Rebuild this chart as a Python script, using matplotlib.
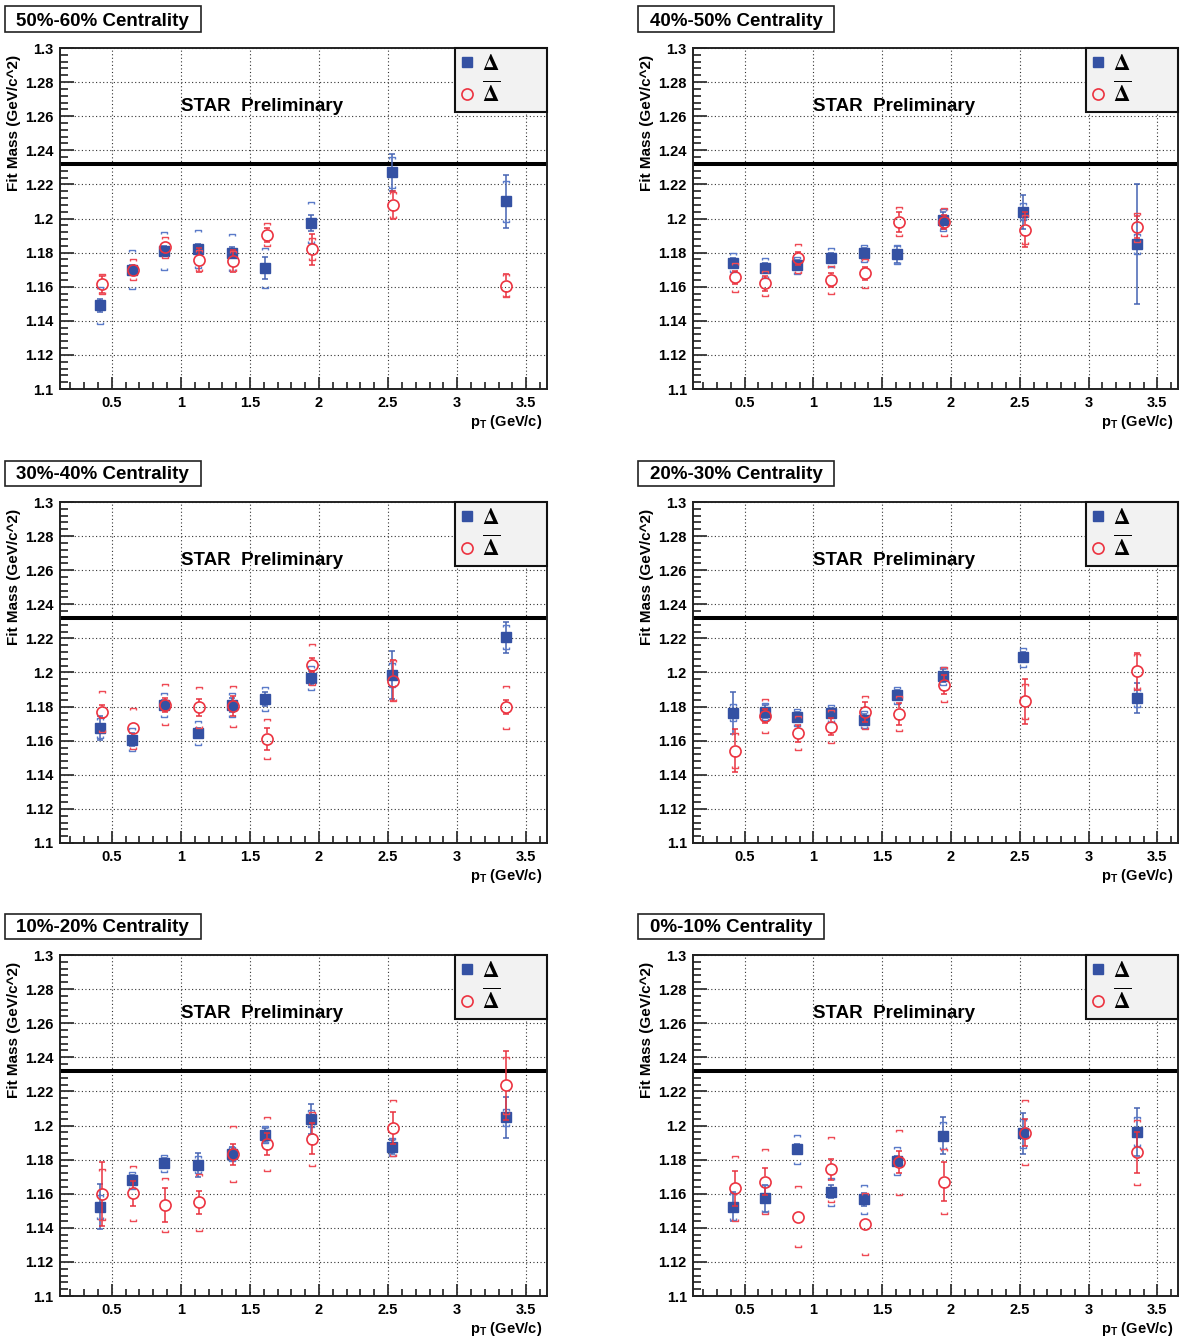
import matplotlib
matplotlib.use("Agg")
import matplotlib.pyplot as plt
import matplotlib.patches as mpatches
from matplotlib.lines import Line2D
from matplotlib.path import Path
from matplotlib.font_manager import FontProperties
from matplotlib.ticker import MultipleLocator, FuncFormatter
import numpy as np

plt.rcParams["font.family"] = ["Liberation Sans", "DejaVu Sans"]
plt.rcParams["font.weight"] = "bold"
plt.rcParams["mathtext.fontset"] = "custom"
plt.rcParams["mathtext.rm"] = "Liberation Sans:bold"
plt.rcParams["mathtext.bf"] = "Liberation Sans:bold"
plt.rcParams["mathtext.it"] = "Liberation Sans:bold:italic"

# ---- datos ----
centralidades = ["50%-60%", "40%-50%", "30%-40%", "20%-30%", "10%-20%", "0%-10%"]

pt_delta = [0.415, 0.645, 0.88, 1.125, 1.37, 1.61, 1.945, 2.525, 3.35]
pt_anti = [0.43, 0.65, 0.885, 1.13, 1.375, 1.62, 1.95, 2.535, 3.355]

masa_pdg = 1.232

delta_masa = [
    [1.149, 1.170, 1.181, 1.182, 1.180, 1.171, 1.1975, 1.227, 1.210],
    [1.174, 1.171, 1.1727, 1.177, 1.1795, 1.179, 1.199, 1.204, 1.185],
    [1.1673, 1.1607, 1.181, 1.1644, 1.181, 1.1845, 1.1967, 1.1986, 1.2207],
    [1.1763, 1.1771, 1.1738, 1.1761, 1.1724, 1.1867, 1.1982, 1.209, 1.1851],
    [1.1524, 1.168, 1.1778, 1.1769, 1.1833, 1.1945, 1.2039, 1.1873, 1.2047],
    [1.1524, 1.1573, 1.186, 1.1612, 1.1567, 1.1792, 1.194, 1.1954, 1.1964],
]
delta_stat = [
    [0.004, 0.003, 0.003, 0.003, 0.003, 0.0065, 0.0047, 0.011, 0.0155],
    [0.003, 0.003, 0.003, 0.003, 0.003, 0.005, 0.005, 0.010, 0.035],
    [0.007, 0.004, 0.003, 0.003, 0.004, 0.004, 0.004, 0.014, 0.009],
    [0.0122, 0.004, 0.003, 0.003, 0.003, 0.003, 0.004, 0.003, 0.009],
    [0.013, 0.003, 0.003, 0.007, 0.004, 0.004, 0.0088, 0.004, 0.0123],
    [0.0085, 0.008, 0.003, 0.004, 0.004, 0.003, 0.011, 0.012, 0.014],
]
delta_sys = [
    [0.011, 0.0115, 0.011, 0.011, 0.011, 0.0115, 0.012, 0.009, 0.012],
    [0.0055, 0.006, 0.005, 0.0055, 0.005, 0.0055, 0.0065, 0.005, 0.006],
    [0.006, 0.007, 0.007, 0.007, 0.007, 0.007, 0.007, 0.007, 0.007],
    [0.005, 0.005, 0.005, 0.005, 0.005, 0.005, 0.0053, 0.0055, 0.0055],
    [0.007, 0.005, 0.005, 0.005, 0.004, 0.005, 0.005, 0.0053, 0.005],
    [0.008, 0.008, 0.0085, 0.0082, 0.0086, 0.0083, 0.008, 0.0085, 0.0085],
]
anti_masa = [
    [1.1615, 1.170, 1.183, 1.1755, 1.175, 1.1905, 1.182, 1.208, 1.1607],
    [1.1654, 1.162, 1.1766, 1.1639, 1.1678, 1.198, 1.198, 1.1935, 1.195],
    [1.1771, 1.1673, 1.181, 1.1796, 1.1802, 1.161, 1.2045, 1.1953, 1.1796],
    [1.1542, 1.1746, 1.1644, 1.1683, 1.1767, 1.1757, 1.1928, 1.183, 1.2006],
    [1.1596, 1.1602, 1.1533, 1.1549, 1.1831, 1.1892, 1.1922, 1.1984, 1.2235],
    [1.1631, 1.1671, 1.1465, 1.1743, 1.1422, 1.1784, 1.1671, 1.1958, 1.1843],
]
anti_stat = [
    [0.005, 0.003, 0.003, 0.007, 0.0065, 0.004, 0.009, 0.008, 0.0065],
    [0.004, 0.0045, 0.004, 0.004, 0.004, 0.006, 0.004, 0.0105, 0.0065],
    [0.004, 0.003, 0.004, 0.005, 0.006, 0.0066, 0.004, 0.012, 0.004],
    [0.0125, 0.004, 0.005, 0.005, 0.006, 0.0065, 0.0055, 0.013, 0.0106],
    [0.0188, 0.0075, 0.010, 0.0066, 0.006, 0.0065, 0.009, 0.0094, 0.0204],
    [0.0105, 0.008, 0.003, 0.006, 0.003, 0.0065, 0.0115, 0.008, 0.012],
]
anti_sys = [
    [0.006, 0.006, 0.006, 0.006, 0.006, 0.0066, 0.0065, 0.0075, 0.0065],
    [0.0083, 0.0075, 0.0085, 0.0082, 0.0083, 0.0085, 0.008, 0.0085, 0.0085],
    [0.012, 0.012, 0.012, 0.012, 0.012, 0.012, 0.012, 0.012, 0.0125],
    [0.0105, 0.0098, 0.0098, 0.0095, 0.0098, 0.0103, 0.0103, 0.0103, 0.0105],
    [0.015, 0.016, 0.016, 0.0165, 0.0165, 0.016, 0.016, 0.0165, 0.0165],
    [0.019, 0.019, 0.018, 0.019, 0.018, 0.019, 0.019, 0.019, 0.019],
]

# ---- estilo ----
AZUL = "#3451A3"
AZUL_ERR = "#4563B3"
AZUL_SYS = "#5B7BC9"
ROJO = "#EC3340"
ROJO_ERR = "#E8323E"
ROJO_SYS = "#EF4A55"

W, H = 1181, 1341
DPI = 100
XLIM = (0.125, 3.65)
YLIM = (1.1, 1.3)
col_izq = [60, 693]
col_ancho = [487, 485]
fila_top = [48, 502, 955]
alto_ax = 341
MS_CUAD = 7.2
MS_CIRC = 8.0


def corchete(arriba=True):
    s = 1 if arriba else -1
    verts = [(-1, -0.8 * s), (-1, 0), (1, 0), (1, -0.8 * s)]
    return Path(verts, [Path.MOVETO, Path.LINETO, Path.LINETO, Path.LINETO])


CORCHETE_UP = corchete(True)
CORCHETE_DN = corchete(False)


def dibujar_serie(ax, x, y, stat, sys, marker, ms, col, col_err, col_sys, relleno, z):
    x = np.asarray(x)
    y = np.asarray(y)
    stat = np.asarray(stat)
    sys = np.asarray(sys)
    # radio del marcador en unidades de datos (la barra no atraviesa el marcador)
    radio_px = ms / 2 * DPI / 72
    gap = radio_px / alto_ax * (YLIM[1] - YLIM[0])
    m = stat > gap
    ax.vlines(x[m], (y + gap)[m], (y + stat)[m], colors=col_err, lw=1.1, zorder=z)
    ax.vlines(x[m], (y - stat)[m], (y - gap)[m], colors=col_err, lw=1.1, zorder=z)
    ax.plot(x[m], (y + stat)[m], ls="none", marker="_", ms=5, mew=1.1, color=col_err, zorder=z)
    ax.plot(x[m], (y - stat)[m], ls="none", marker="_", ms=5, mew=1.1, color=col_err, zorder=z)
    ax.plot(x, y + sys, ls="none", marker=CORCHETE_UP, ms=3.8, mfc="none", mec=col_sys, mew=1.0, zorder=z)
    ax.plot(x, y - sys, ls="none", marker=CORCHETE_DN, ms=3.8, mfc="none", mec=col_sys, mew=1.0, zorder=z)
    if relleno:
        ax.plot(x, y, ls="none", marker=marker, ms=ms, color=col, mec=col, zorder=z + 0.5)
    else:
        ax.plot(x, y, ls="none", marker=marker, ms=ms, mfc="none", mec=col, mew=1.2, zorder=z + 0.5)


fmt = FuncFormatter(lambda v, p: f"{round(v, 3):g}")
prop_leg = FontProperties(family="DejaVu Serif", weight="normal", size=16.5, math_fontfamily="stix")

fig = plt.figure(figsize=(W / DPI, H / DPI), dpi=DPI)
renderer = fig.canvas.get_renderer()

for k, cent in enumerate(centralidades):
    fila, col = divmod(k, 2)
    x0 = col_izq[col]
    y0 = fila_top[fila]
    ax = fig.add_axes([x0 / W, 1 - (y0 + alto_ax) / H, col_ancho[col] / W, alto_ax / H])
    ax.set_xlim(*XLIM)
    ax.set_ylim(*YLIM)

    ax.xaxis.set_major_locator(MultipleLocator(0.5))
    ax.xaxis.set_minor_locator(MultipleLocator(0.1))
    ax.yaxis.set_major_locator(MultipleLocator(0.02))
    ax.yaxis.set_minor_locator(MultipleLocator(0.004))
    ax.xaxis.set_major_formatter(fmt)
    ax.yaxis.set_major_formatter(fmt)

    ax.tick_params(axis="both", which="both", direction="in", color="#333333",
                   top=False, right=False, labelsize=10.5)
    ax.tick_params(axis="y", which="major", length=10, width=1.3, pad=4.5)
    ax.tick_params(axis="y", which="minor", length=5.5, width=1.3)
    ax.tick_params(axis="x", which="major", length=8.5, width=1.3, pad=5)
    ax.tick_params(axis="x", which="minor", length=5, width=1.3)
    for sp in ax.spines.values():
        sp.set_linewidth(1.4)
        sp.set_color("#222222")

    ax.grid(True, which="major", ls=(0, (1, 2.2)), color="#333333", lw=0.8)
    ax.set_axisbelow(True)

    ax.axhline(masa_pdg, xmin=0.004, xmax=1, color="black", lw=2.9, zorder=2)

    dibujar_serie(ax, pt_delta, delta_masa[k], delta_stat[k], delta_sys[k],
                  "s", MS_CUAD, AZUL, AZUL_ERR, AZUL_SYS, True, 3)
    dibujar_serie(ax, pt_anti, anti_masa[k], anti_stat[k], anti_sys[k],
                  "o", MS_CIRC, ROJO, ROJO_ERR, ROJO_SYS, False, 4)

    ax.text(1.0, 1.263, "STAR  Preliminary", fontsize=13.5, fontweight="bold",
            ha="left", va="baseline", zorder=6)

    ax.set_ylabel("Fit Mass (GeV/c^2)", fontsize=11, fontweight="bold", loc="top")
    ax.yaxis.set_label_coords(-0.080, 0.98)
    ax.set_xlabel(r"$\mathbf{p}_{\mathbf{T}}$ (GeV/c)", fontsize=10.5, fontweight="bold", loc="right")
    ax.xaxis.set_label_coords(0.99, -0.070)

    h1 = Line2D([], [], ls="none", marker="s", ms=MS_CUAD, color=AZUL)
    h2 = Line2D([], [], ls="none", marker="o", ms=MS_CIRC, mfc="none", mec=ROJO, mew=1.2)
    leg = ax.legend([h1, h2], [r"$\mathrm{\Delta}$", r"$\overline{\mathrm{\Delta}}$"], prop=prop_leg,
                    loc="upper left", bbox_to_anchor=(0.811, 0.0, 0.189, 1.0), mode="expand",
                    borderaxespad=0, frameon=True, fancybox=False, framealpha=1,
                    facecolor="#f2f2f2", edgecolor="#111111", borderpad=0.22,
                    labelspacing=0.3, handlelength=0.6, handletextpad=0.35)
    leg.get_frame().set_linewidth(1.5)

    # caja con la centralidad
    caja_izq = x0 - 55.5
    caja_top = y0 - 41.5
    caja_alto = 25
    t = fig.text((caja_izq + 12) / W, 1 - (caja_top + caja_alto / 2) / H, f"{cent} Centrality",
                 fontsize=13.5, fontweight="bold", ha="left", va="center_baseline")
    ext = t.get_window_extent(renderer)
    caja_ancho = ext.x1 - caja_izq + 12
    rect = mpatches.Rectangle((caja_izq / W, 1 - (caja_top + caja_alto) / H),
                              caja_ancho / W, caja_alto / H, transform=fig.transFigure,
                              facecolor="white", edgecolor="#222222", lw=1.2, zorder=0)
    fig.add_artist(rect)

fig.savefig("out.png", dpi=DPI)
